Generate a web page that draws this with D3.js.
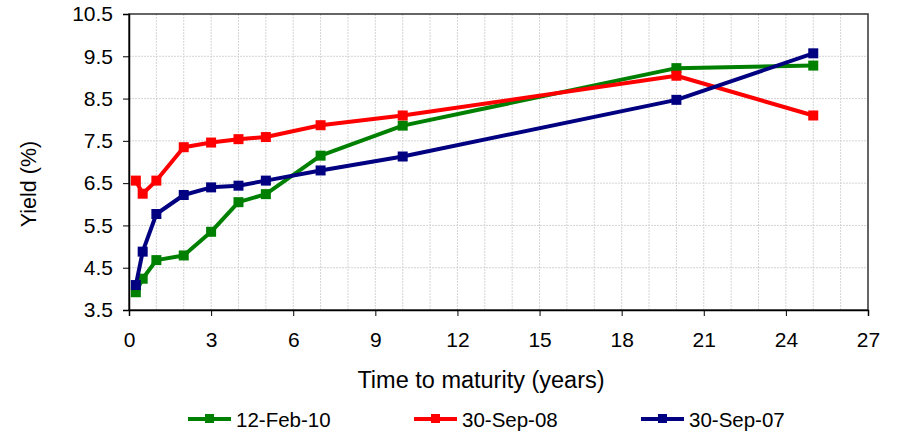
<!DOCTYPE html>
<html>
<head>
<meta charset="utf-8">
<script src="https://cdn.jsdelivr.net/npm/d3@7"></script>
<style>
    body { margin: 0; background: #fff; }
    text { font-family: "Liberation Sans", Arial, sans-serif; fill: #000; }
</style>
</head>
<body>
<div id="the_chart"></div>
<script>
// maturities in years
const maturities = [0.25, 0.5, 1, 2, 3, 4, 5, 7, 10, 20, 25];
const seriesNames = ["12-Feb-10", "30-Sep-08", "30-Sep-07"];
const feb10 = [3.92, 4.24, 4.68, 4.79, 5.35, 6.05, 6.24, 7.15, 7.86, 9.22, 9.28];
const sep08 = [6.56, 6.25, 6.56, 7.35, 7.46, 7.54, 7.59, 7.87, 8.10, 9.04, 8.10];
const sep07 = [4.09, 4.88, 5.77, 6.22, 6.40, 6.44, 6.56, 6.80, 7.13, 8.47, 9.57];
const seriesColors = ["#008000", "#ff0000", "#000080"];
const xTicks = [0, 3, 6, 9, 12, 15, 18, 21, 24, 27];
const yTicks = [3.5, 4.5, 5.5, 6.5, 7.5, 8.5, 9.5, 10.5];

var w = 897, h = 432;
var plotL = 129, plotR = 868, plotT = 14, plotB = 310;

var svg = d3.select("#the_chart")
    .append("svg")
    .attr("width", w)
    .attr("height", h);

var xscale = d3.scaleLinear().domain([0, 27]).range([plotL, plotR]);
var yscale = d3.scaleLinear().domain([3.5, 10.5]).range([plotB, plotT]);

// gridlines - vertical every year, horizontal at each tick
svg.append("g")
    .selectAll("line")
    .data(d3.range(1, 27))
    .enter().append("line")
    .attr("x1", d => xscale(d)).attr("x2", d => xscale(d))
    .attr("y1", plotT).attr("y2", plotB)
    .attr("stroke", "#d4d4d4")
    .attr("stroke-dasharray", "2,1");

svg.append("g")
    .selectAll("line")
    .data(yTicks.slice(1, -1))
    .enter().append("line")
    .attr("x1", plotL).attr("x2", plotR)
    .attr("y1", d => yscale(d)).attr("y2", d => yscale(d))
    .attr("stroke", "#d4d4d4")
    .attr("stroke-dasharray", "2,1");

// plot border
svg.append("rect")
    .attr("x", plotL).attr("y", plotT)
    .attr("width", plotR - plotL).attr("height", plotB - plotT)
    .attr("fill", "none")
    .attr("stroke", "#333")
    .attr("stroke-width", 1.5);

// axes
var yaxis = d3.axisLeft(yscale)
    .tickValues(yTicks)
    .tickFormat(d3.format(".1f"))
    .tickSize(6)
    .tickPadding(10);
svg.append("g")
    .attr("class", "yaxis")
    .attr("transform", "translate(" + plotL + ",0)")
    .call(yaxis);

var xaxis = d3.axisBottom(xscale)
    .tickValues(xTicks)
    .tickFormat(d3.format("d"))
    .tickSize(6)
    .tickPadding(16);
svg.append("g")
    .attr("class", "xaxis")
    .attr("transform", "translate(0," + plotB + ")")
    .call(xaxis);

svg.selectAll(".xaxis path, .yaxis path").attr("stroke", "#000").attr("stroke-width", 1.5);
svg.selectAll(".tick line").attr("stroke", "#000");
svg.selectAll(".tick text")
    .style("font-family", "'Liberation Sans', Arial, sans-serif")
    .style("font-size", "21px")
    .attr("fill", "#000");

// axis titles
svg.append("text")
    .attr("x", 481)
    .attr("y", 388)
    .attr("text-anchor", "middle")
    .style("font-size", "23.5px")
    .text("Time to maturity (years)");

svg.append("text")
    .attr("transform", "translate(36,184) rotate(-90)")
    .attr("text-anchor", "middle")
    .style("font-size", "21.5px")
    .text("Yield (%)");

// series
var allSeries = [feb10, sep08, sep07].map((vals, i) => ({
    name: seriesNames[i],
    color: seriesColors[i],
    points: vals.map((v, j) => ({ x: maturities[j], y: v }))
}));

var line = d3.line()
    .x(d => xscale(d.x))
    .y(d => yscale(d.y));

var ms = 10; // marker size
allSeries.forEach(s => {
    var g = svg.append("g");
    g.append("path")
        .datum(s.points)
        .attr("d", line)
        .attr("fill", "none")
        .attr("stroke", s.color)
        .attr("stroke-width", 4)
        .attr("stroke-linejoin", "round");
    g.selectAll("rect")
        .data(s.points)
        .enter().append("rect")
        .attr("x", d => xscale(d.x) - ms / 2)
        .attr("y", d => yscale(d.y) - ms / 2)
        .attr("width", ms)
        .attr("height", ms)
        .attr("fill", s.color);
});

// legend
var legendX = [188, 414, 641];
var legend = svg.append("g")
    .selectAll("g")
    .data(allSeries)
    .enter().append("g")
    .attr("transform", (d, i) => "translate(" + legendX[i] + ",419)");
legend.append("line")
    .attr("x1", 0).attr("x2", 43)
    .attr("stroke", d => d.color)
    .attr("stroke-width", 4);
legend.append("rect")
    .attr("x", 17).attr("y", -5)
    .attr("width", 9).attr("height", 9)
    .attr("fill", d => d.color);
legend.append("text")
    .attr("x", 48)
    .attr("y", 8)
    .style("font-size", "20.5px")
    .text(d => d.name);
</script>
</body>
</html>
